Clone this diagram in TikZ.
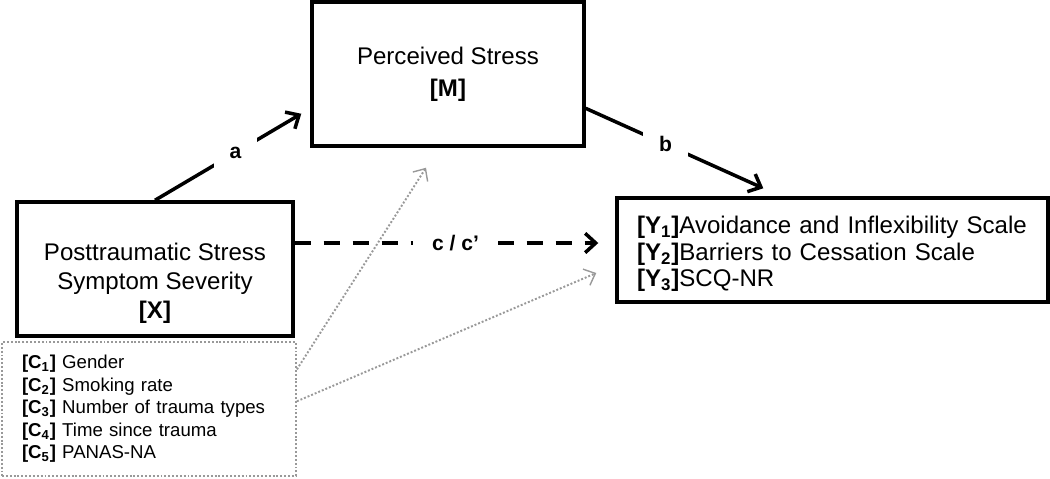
\documentclass[tikz,border=0pt]{standalone}
\usepackage{fontspec}
\setmainfont{Liberation Sans}
\usetikzlibrary{arrows.meta,positioning,calc}

\begin{document}
\begin{tikzpicture}[
		x=0.02cm, y=0.02cm, % one unit = one pixel of the figure
		box/.style={rectangle, draw=black, line width=2pt, inner sep=0pt},
		covbox/.style={rectangle, draw=gray!80, line width=1.1pt, dash pattern=on 1.1pt off 1.1pt, inner sep=0pt},
		lbl/.style={fill=white, inner sep=9pt, font=\fontsize{12}{14}\selectfont\bfseries},
		arr/.style={line width=2pt, -{Straight Barb[length=6pt,width=11pt]}},
		dasharr/.style={arr, dash pattern=on 9.5pt off 7pt},
		covarr/.style={draw=gray!80, line width=1.1pt, dash pattern=on 1.1pt off 1.1pt, -{Straight Barb[length=5.5pt,width=10pt,line width=0.8pt]}}]
		\useasboundingbox (0,0) rectangle (1050,478);
		\path 	(448,404) 	node 	(M) [box, minimum width=5.44cm, minimum height=2.88cm, align=center, font=\fontsize{13.7}{18}\selectfont] {Perceived Stress\\\textbf{[M]}}
		        (155,209) 	node 	(X) [box, minimum width=5.52cm, minimum height=2.68cm] {}
		        (155,195) 	node 	(Xtxt) [align=center, inner sep=0pt, font=\fontsize{13.7}{16.5}\selectfont] {Posttraumatic Stress\\Symptom Severity\\\textbf{[X]}}
		        (832.5,228) node 	(Y) [box, minimum width=8.62cm, minimum height=2.08cm] {}
		        (832.5,224) node 	(Ytxt) [inner sep=0pt, text width=7.82cm, align=left, font=\fontsize{13.7}{15.1}\selectfont]
		                {\textbf{[Y\textsubscript{1}]}Avoidance and Inflexibility Scale\\
		                 \textbf{[Y\textsubscript{2}]}Barriers to Cessation Scale\\
		                 \textbf{[Y\textsubscript{3}]}SCQ-NR}
		        (149,69) 	node 	(C) [covbox, minimum width=5.88cm, minimum height=2.68cm, text width=5.08cm, align=left, font=\fontsize{10.6}{12.8}\selectfont]
		                {\textbf{[C\textsubscript{1}]} Gender\\
		                 \textbf{[C\textsubscript{2}]} Smoking rate\\
		                 \textbf{[C\textsubscript{3}]} Number of trauma types\\
		                 \textbf{[C\textsubscript{4}]} Time since trauma\\
		                 \textbf{[C\textsubscript{5}]} PANAS-NA};
		\coordinate (atip) at ($(M.south west)+(-9,34)$);
		\coordinate (btip) at ($(Y.north west)+(148,8)$);
		\coordinate (ctip) at ($(Y.west)+(-17,7)$);
		\coordinate (mcov) at ($(M.south)+(-22,-20)$);
		\coordinate (ycov) at ($(Y.west)+(-19,-23)$);
		\draw [covarr] (C.15) -- (mcov);
		\draw [covarr] (C.3.5) -- (ycov);
		\draw [arr] (X.north) -- node [lbl, pos=0.55] {a} (atip);
		\draw [arr] (M.-14) -- node [lbl, pos=0.45] {b} (btip);
		\draw [dasharr] (X.east |- ctip) -- node [lbl, inner xsep=11pt, pos=0.53] {c / c’} (ctip);
	\end{tikzpicture}
\end{document}
